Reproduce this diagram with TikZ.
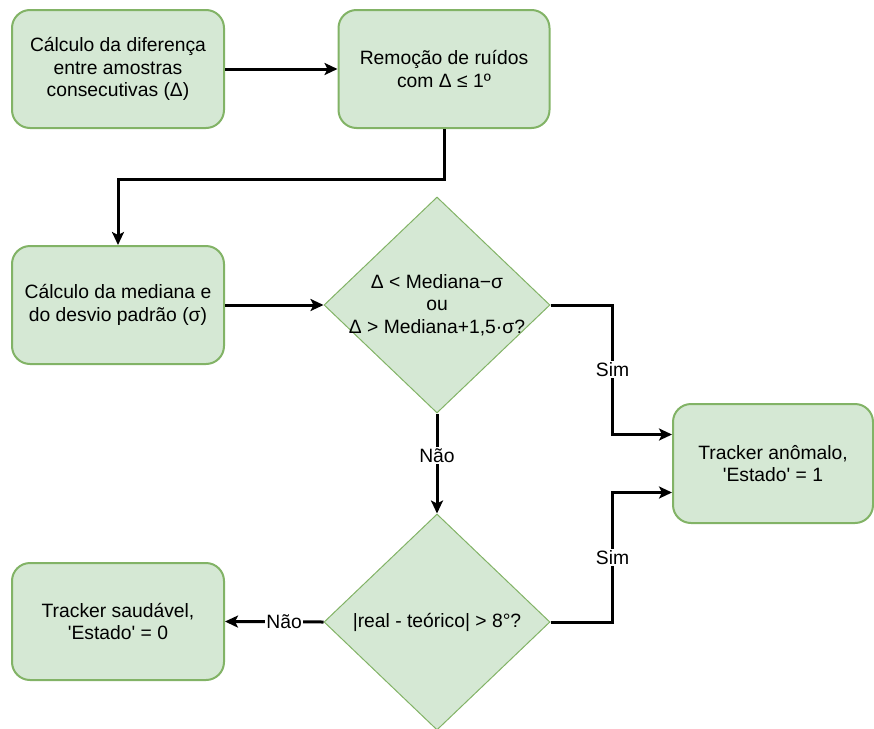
\documentclass[tikz,border=0pt]{standalone}
\usepackage{fontspec}
\setmainfont{Liberation Sans}
\usetikzlibrary{shapes.geometric,arrows.meta,calc}
\definecolor{boxfill}{HTML}{D5E8D4}
\definecolor{boxline}{HTML}{82B366}
\begin{document}
\begin{tikzpicture}[x=1pt,y=-1pt,
  every node/.style={font=\fontsize{19.3}{22.5}\selectfont},
  stepbox/.style={draw=boxline,fill=boxfill,line width=2pt,rounded corners=18pt,
    minimum width=212pt,minimum height=118pt,align=center,inner sep=0pt},
  decision/.style={diamond,draw=boxline,fill=boxfill,line width=1pt,
    minimum width=226pt,minimum height=216pt,inner sep=0pt},
  txt/.style={align=center,inner sep=0pt},
  arr/.style={draw=black,line width=3pt,-{Stealth[length=13pt,width=12pt,inset=3pt]}},
  lbl/.style={fill=white,inner sep=1.5pt}]
\useasboundingbox (0,0) rectangle (874,728);

% process steps
\node[stepbox] (b1) at (118,69) {Cálculo da diferença\\entre amostras\\consecutivas (Δ)};
\node[stepbox,minimum width=211pt] (b2) at (444,69) {Remoção de ruídos\\com Δ ≤ 1º};
\node[stepbox] (b3) at (118,305) {Cálculo da mediana e\\do desvio padrão (σ)};
\node[stepbox,minimum width=200pt,minimum height=119pt] (b4) at (773,463.5)
  {Tracker anômalo,\\\textquotesingle Estado\textquotesingle{} = 1};
\node[stepbox,minimum height=117pt] (b5) at (118,621.5)
  {Tracker saudável,\\\textquotesingle Estado\textquotesingle{} = 0};

% decisions
\node[decision] (d1) at (437,305) {};
\node[txt] (d1t) at (d1) {Δ < Mediana−σ\\ou\\Δ > Mediana+1,5·σ?};
\node[decision] (d2) at (437,622) {};
\node[txt] (d2t) at (d2) {|real - teórico| > 8°?};

% connectors
\draw[arr] (b1.east) -- (b2.west);
\draw[arr] (b2.south) -- ++(0,50) -| (b3.north);
\draw[arr] (b3.east) -- (d1.west);
\draw[arr] (d1.east) -- ++(62,0) |- node[lbl,pos=0.25] (s1) {Sim} ($(b4.west)+(0,-29)$);
\draw[arr] (d1.south) -- node[lbl,pos=0.42] (n1) {Não} (d2.north);
\draw[arr] (d2.east) -- ++(62,0) |- node[lbl,pos=0.25] (s2) {Sim} ($(b4.west)+(0,29)$);
\draw[arr] (d2.west) -- node[lbl,pos=0.4] (n2) {Não} (b5.east);
\end{tikzpicture}
\end{document}
